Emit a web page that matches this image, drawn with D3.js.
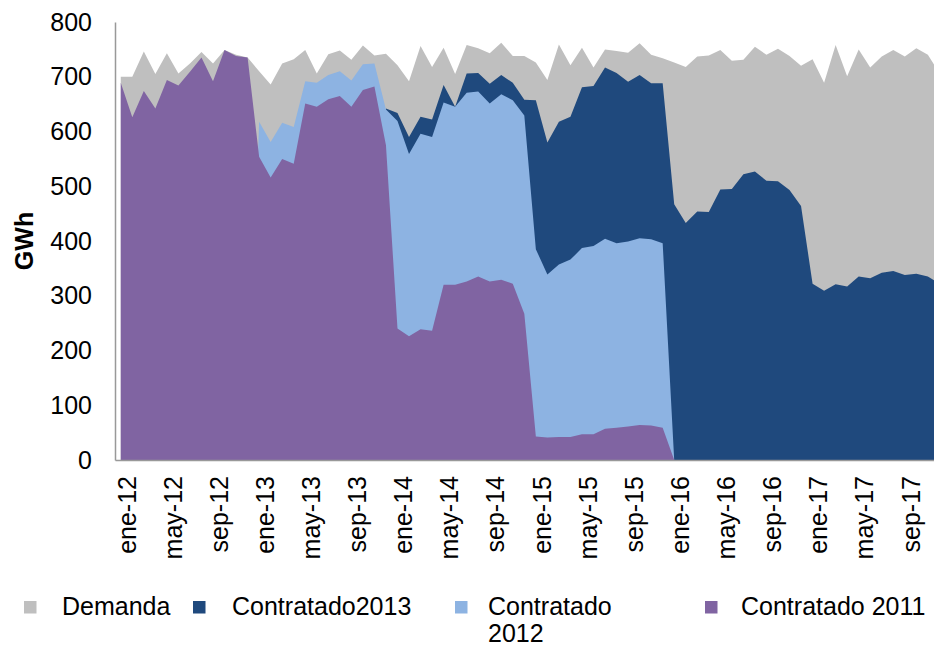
<!DOCTYPE html>
<html>
<head>
<meta charset="utf-8">
<script src="https://cdn.jsdelivr.net/npm/d3@7"></script>
<style>
  html, body { margin: 0; padding: 0; background: #fff; }
  svg { display: block; font-family: "Liberation Sans", Arial, sans-serif; }
</style>
</head>
<body>
<svg id="chart" width="934" height="647"></svg>
<script>
// ---- data ----
const monthNames = ["ene","feb","mar","abr","may","jun","jul","ago","sep","oct","nov","dic"];
const years = ["12","13","14","15","16","17"];
const categories = [];
years.forEach(y => monthNames.forEach(m => categories.push(m + "-" + y)));

const demanda = [700,700,746,705,743,706,724,745,724,749,740,735,
                 710,686,724,732,749,706,741,748,731,757,739,742,
                 721,692,756,718,753,705,758,752,743,762,738,738,
                 726,694,759,721,753,717,750,747,744,761,740,734,
                 726,718,737,739,749,729,731,755,740,751,738,720,
                 732,689,758,701,750,717,737,749,737,752,740,707];

const contratado2013 = [0,0,0,0,0,0,0,0,0,0,0,0,
                        0,0,0,0,0,0,0,0,0,0,0,642,
                        634,590,627,622,685,645,706,707,687,703,689,658,
                        657,580,618,627,681,683,717,707,691,703,688,688,
                        467,433,454,453,494,495,522,527,510,509,493,464,
                        322,309,321,317,335,332,342,345,338,340,335,322];

const contratado2012 = [0,0,0,0,0,0,0,0,0,0,0,0,
                        618,581,616,608,692,689,703,710,693,723,724,640,
                        619,559,596,590,653,645,671,673,651,668,657,629,
                        385,339,357,366,387,391,404,396,399,405,403,396,
                        0,0,0,0,0,0,0,0,0,0,0,0,
                        0,0,0,0,0,0,0,0,0,0,0,0];

const contratado2011 = [689,626,674,642,694,684,709,735,692,749,738,735,
                        554,516,550,541,651,645,659,665,645,676,682,575,
                        240,226,239,236,320,320,326,335,326,329,322,267,
                        43,41,42,42,47,47,57,59,61,64,63,59,
                        0,0,0,0,0,0,0,0,0,0,0,0,
                        0,0,0,0,0,0,0,0,0,0,0,0];

const yTicks = [0,100,200,300,400,500,600,700,800];
const seriesNames = ["Demanda","Contratado2013","Contratado 2012","Contratado 2011"];
const seriesColors = ["#BFBFBF","#1F497D","#8DB3E2","#8064A2"];
const seriesData = [demanda, contratado2013, contratado2012, contratado2011];

// ---- layout ----
const svg = d3.select("#chart");
const left = 115, step = 11.53, y0px = 460, ytop = 22;
const fontSize = 25;

const x = d3.scaleBand().domain(categories).range([left, left + categories.length * step]).padding(0);
const cx = c => x(c) + x.bandwidth() / 2;
const y = d3.scaleLinear().domain([0, 800]).range([y0px, ytop]);

// ---- areas ----
const area = d3.area()
  .x((d, i) => cx(categories[i]))
  .y0(y(0))
  .y1(d => y(d));

svg.append("g").selectAll("path")
  .data(seriesData)
  .join("path")
  .attr("d", d => area(d))
  .attr("fill", (d, i) => seriesColors[i])
  .attr("stroke", "none");

// ---- y axis ----
const yAxis = svg.append("g")
  .attr("transform", `translate(${left},0)`)
  .call(d3.axisLeft(y).tickValues(yTicks).tickSize(0).tickSizeOuter(0).tickPadding(23).tickFormat(d3.format("d")));
yAxis.select(".domain").attr("stroke", "#999").attr("stroke-width", 1.5);
yAxis.selectAll("text").attr("font-size", fontSize).attr("fill", "#000").attr("font-family", "Liberation Sans, Arial, sans-serif");

// ---- x axis ----
const xAxis = svg.append("g")
  .attr("transform", `translate(0,${y0px})`)
  .call(d3.axisBottom(x).tickValues(categories.filter((c, i) => i % 4 === 0)).tickSize(0).tickSizeOuter(0));
xAxis.select(".domain").attr("stroke", "#999").attr("stroke-width", 1.5);
xAxis.selectAll("text")
  .attr("x", 0).attr("y", 0).attr("dy", "0.35em")
  .attr("transform", "translate(6,16) rotate(-90)")
  .style("text-anchor", "end")
  .attr("font-size", fontSize).attr("fill", "#000")
  .attr("font-family", "Liberation Sans, Arial, sans-serif");

// ---- y axis title ----
svg.append("text")
  .attr("transform", "translate(24,241) rotate(-90)")
  .attr("dy", "0.35em")
  .attr("text-anchor", "middle")
  .attr("font-size", fontSize)
  .attr("font-weight", "bold")
  .attr("fill", "#000")
  .text("GWh");

// ---- legend ----
const legendItems = [
  { name: seriesNames[0], lines: ["Demanda"], color: seriesColors[0], sx: 24, tx: 62 },
  { name: seriesNames[1], lines: ["Contratado2013"], color: seriesColors[1], sx: 193, tx: 232 },
  { name: seriesNames[2], lines: ["Contratado", "2012"], color: seriesColors[2], sx: 455, tx: 488 },
  { name: seriesNames[3], lines: ["Contratado 2011"], color: seriesColors[3], sx: 705, tx: 741 }
];
const lg = svg.append("g");
legendItems.forEach(it => {
  lg.append("rect").attr("x", it.sx).attr("y", 601).attr("width", 12.5).attr("height", 12.5).attr("fill", it.color);
  const t = lg.append("text").attr("x", it.tx).attr("y", 616).attr("font-size", fontSize).attr("fill", "#000");
  it.lines.forEach((ln, k) => {
    t.append("tspan").attr("x", it.tx).attr("y", 615 + k * 27).text(ln);
  });
});
</script>
</body>
</html>
